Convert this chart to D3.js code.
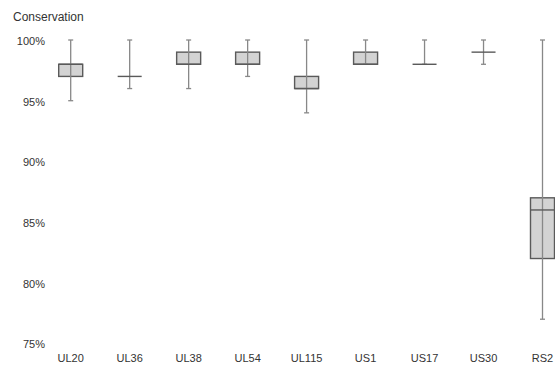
<!DOCTYPE html>
<html>
<head>
<meta charset="utf-8">
<script src="https://cdn.jsdelivr.net/npm/d3@7"></script>
<style>
  body { margin: 0; background: #fff; }
  svg { font-family: "Liberation Sans", Arial, sans-serif; }
</style>
</head>
<body>
<svg id="chart" width="555" height="366"></svg>
<script>
// Box plot values (percent)
const categories = ["UL20", "UL36", "UL38", "UL54", "UL115", "US1", "US17", "US30", "RS2"];
const whiskerLow  = [95, 96, 96, 97, 94, 98, 98, 98, 77];
const q1          = [97, 97, 98, 98, 96, 98, 98, 99, 82];
const median      = [98, 97, 98, 98, 96, 98, 98, 99, 86];
const q3          = [98, 97, 99, 99, 97, 99, 98, 99, 87];
const whiskerHigh = [100, 100, 100, 100, 100, 100, 100, 100, 100];
const yTicks = [75, 80, 85, 90, 95, 100];

const data = categories.map((c, i) => ({
    name: c, lo: whiskerLow[i], q1: q1[i], med: median[i], q3: q3[i], hi: whiskerHigh[i]
}));

const svg = d3.select("#chart");

const xScale = d3.scalePoint()
    .domain(categories)
    .range([70.7, 542.5]);

const yScale = d3.scaleLinear()
    .domain([75, 100])
    .range([343.5, 40]);

const boxWidth = 24;
const capWidth = 5;

// y labels
svg.append("g")
    .selectAll("text")
    .data(yTicks)
    .enter()
    .append("text")
    .attr("x", 45)
    .attr("y", d => yScale(d) + 1)
    .attr("dy", "0.35em")
    .attr("text-anchor", "end")
    .style("font-size", "11px")
    .style("fill", "#333")
    .text(d => d + "%");

// x labels
svg.append("g")
    .selectAll("text")
    .data(categories)
    .enter()
    .append("text")
    .attr("x", d => xScale(d))
    .attr("y", 358)
    .attr("dy", "0.35em")
    .attr("text-anchor", "middle")
    .style("font-size", "11px")
    .style("fill", "#333")
    .text(d => d);

// title
svg.append("text")
    .attr("x", 13)
    .attr("y", 21)
    .style("font-size", "12px")
    .style("fill", "#333")
    .text("Conservation");

const g = svg.selectAll(".box")
    .data(data)
    .enter()
    .append("g")
    .attr("class", "box")
    .attr("transform", d => `translate(${xScale(d.name)},0)`);

// boxes
g.append("rect")
    .attr("x", -boxWidth / 2)
    .attr("width", boxWidth)
    .attr("y", d => yScale(d.q3))
    .attr("height", d => yScale(d.q1) - yScale(d.q3))
    .attr("fill", "#d3d3d3")
    .attr("stroke", "#5a5a5a")
    .attr("stroke-width", 1.4);

// whiskers
g.append("line")
    .attr("x1", 0).attr("x2", 0)
    .attr("y1", d => yScale(d.lo))
    .attr("y2", d => yScale(d.hi))
    .attr("stroke", "#888")
    .attr("stroke-width", 1.3);

g.selectAll(".cap")
    .data(d => [d.lo, d.hi])
    .enter()
    .append("line")
    .attr("class", "cap")
    .attr("x1", -capWidth / 2).attr("x2", capWidth / 2)
    .attr("y1", d => yScale(d))
    .attr("y2", d => yScale(d))
    .attr("stroke", "#888")
    .attr("stroke-width", 1.3);

// median
g.append("line")
    .attr("x1", -boxWidth / 2).attr("x2", boxWidth / 2)
    .attr("y1", d => yScale(d.med))
    .attr("y2", d => yScale(d.med))
    .attr("stroke", "#5a5a5a")
    .attr("stroke-width", 1.4);
</script>
</body>
</html>
